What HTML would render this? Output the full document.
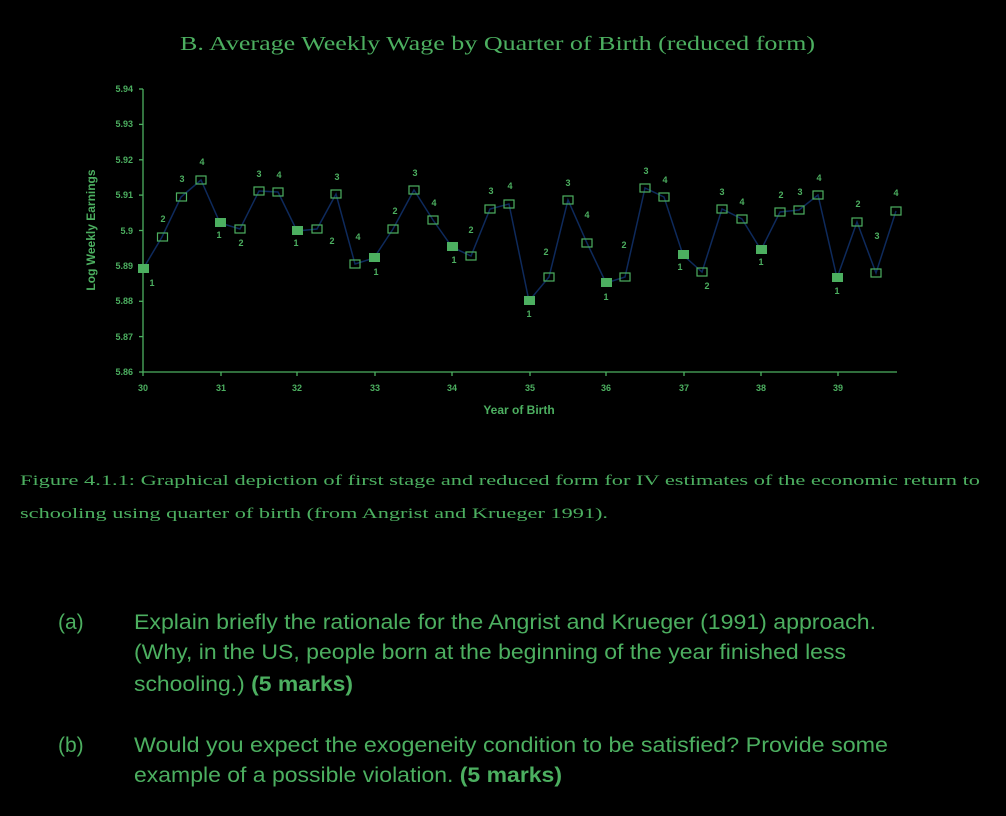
<!DOCTYPE html>
<html><head><meta charset="utf-8"><style>
html,body{margin:0;padding:0;background:#000;}
svg{display:block;}
</style></head><body>
<svg width="1006" height="816" xmlns="http://www.w3.org/2000/svg">
<rect width="1006" height="816" fill="#000"/>
<g fill="#4caf60">
<text x="180" y="50" font-family="Liberation Serif, serif" font-size="20" textLength="635" lengthAdjust="spacingAndGlyphs">B. Average Weekly Wage by Quarter of Birth (reduced form)</text>
</g>
<!-- axes -->
<g stroke="#4caf60" stroke-width="1.3" fill="none">
<line x1="143" y1="89" x2="143" y2="372"/>
<line x1="143" y1="372" x2="897" y2="372"/>
<line x1="139" y1="89" x2="143" y2="89"/><line x1="139" y1="124.4" x2="143" y2="124.4"/><line x1="139" y1="159.8" x2="143" y2="159.8"/><line x1="139" y1="195.1" x2="143" y2="195.1"/><line x1="139" y1="230.5" x2="143" y2="230.5"/><line x1="139" y1="265.9" x2="143" y2="265.9"/><line x1="139" y1="301.3" x2="143" y2="301.3"/><line x1="139" y1="336.6" x2="143" y2="336.6"/><line x1="139" y1="372" x2="143" y2="372"/>
<line x1="143" y1="372" x2="143" y2="376"/><line x1="221" y1="372" x2="221" y2="376"/><line x1="297" y1="372" x2="297" y2="376"/><line x1="375" y1="372" x2="375" y2="376"/><line x1="452" y1="372" x2="452" y2="376"/><line x1="530" y1="372" x2="530" y2="376"/><line x1="606" y1="372" x2="606" y2="376"/><line x1="684" y1="372" x2="684" y2="376"/><line x1="761" y1="372" x2="761" y2="376"/><line x1="838" y1="372" x2="838" y2="376"/>
</g>
<g fill="#4caf60" font-family="Liberation Sans, sans-serif" font-size="9" font-weight="bold" text-anchor="end">
<text x="133" y="92">5.94</text><text x="133" y="127">5.93</text><text x="133" y="163">5.92</text><text x="133" y="198">5.91</text><text x="133" y="234">5.9</text><text x="133" y="269">5.89</text><text x="133" y="304">5.88</text><text x="133" y="340">5.87</text><text x="133" y="375">5.86</text>
</g>
<g fill="#4caf60" font-family="Liberation Sans, sans-serif" font-size="9" font-weight="bold" text-anchor="middle">
<text x="143" y="391">30</text><text x="221" y="391">31</text><text x="297" y="391">32</text><text x="375" y="391">33</text><text x="452" y="391">34</text><text x="530" y="391">35</text><text x="606" y="391">36</text><text x="684" y="391">37</text><text x="761" y="391">38</text><text x="838" y="391">39</text>
<text x="519" y="414" font-size="12">Year of Birth</text>
<text transform="translate(95,230) rotate(-90)" font-size="12">Log Weekly Earnings</text>
</g>
<polyline fill="none" stroke="#0e2a5c" stroke-width="1.5" points="143,269 162,237 181,197 201,180 220,223 240,229 259,191 278,192 297,231 317,229 336,194 355,264 374,258 393,229 414,190 433,220 452,247 471,256 490,209 509,204 529,301 549,277 568,200 587,243 606,283 625,277 645,188 664,197 683,255 702,272 722,209 742,219 761,250 780,212 799,210 818,195 837,278 857,222 876,273 896,211"/>
<g fill="#4caf60">
<rect x="138" y="264" width="11" height="9"/><rect x="215" y="218" width="11" height="9"/><rect x="292" y="226" width="11" height="9"/><rect x="369" y="253" width="11" height="9"/><rect x="447" y="242" width="11" height="9"/><rect x="524" y="296" width="11" height="9"/><rect x="601" y="278" width="11" height="9"/><rect x="678" y="250" width="11" height="9"/><rect x="756" y="245" width="11" height="9"/><rect x="832" y="273" width="11" height="9"/>
</g>
<g fill="none" stroke="#4caf60" stroke-width="1.2">
<rect x="157.5" y="233" width="10" height="8"/><rect x="176.5" y="193" width="10" height="8"/><rect x="196" y="176" width="10" height="8"/><rect x="235" y="225" width="10" height="8"/><rect x="254" y="187" width="10" height="8"/><rect x="273" y="188" width="10" height="8"/><rect x="312" y="225" width="10" height="8"/><rect x="331" y="190" width="10" height="8"/><rect x="350" y="260" width="10" height="8"/><rect x="388" y="225" width="10" height="8"/><rect x="409" y="186" width="10" height="8"/><rect x="428" y="216" width="10" height="8"/><rect x="466" y="252" width="10" height="8"/><rect x="485" y="205" width="10" height="8"/><rect x="504" y="200" width="10" height="8"/><rect x="544" y="273" width="10" height="8"/><rect x="563" y="196" width="10" height="8"/><rect x="582" y="239" width="10" height="8"/><rect x="620" y="273" width="10" height="8"/><rect x="640" y="184" width="10" height="8"/><rect x="659" y="193" width="10" height="8"/><rect x="697" y="268" width="10" height="8"/><rect x="717" y="205" width="10" height="8"/><rect x="737" y="215" width="10" height="8"/><rect x="775" y="208" width="10" height="8"/><rect x="794" y="206" width="10" height="8"/><rect x="813" y="191" width="10" height="8"/><rect x="852" y="218" width="10" height="8"/><rect x="871" y="269" width="10" height="8"/><rect x="891" y="207" width="10" height="8"/>
</g>
<g fill="#4caf60" font-family="Liberation Sans, sans-serif" font-size="9" font-weight="bold" text-anchor="middle">
<text x="152" y="286">1</text><text x="163" y="222">2</text><text x="182" y="182">3</text><text x="202" y="165">4</text><text x="219" y="238">1</text><text x="241" y="246">2</text><text x="259" y="177">3</text><text x="279" y="178">4</text><text x="296" y="246">1</text><text x="332" y="244">2</text><text x="337" y="180">3</text><text x="358" y="240">4</text><text x="376" y="275">1</text><text x="395" y="214">2</text><text x="415" y="176">3</text><text x="434" y="206">4</text><text x="454" y="263">1</text><text x="471" y="233">2</text><text x="491" y="194">3</text><text x="510" y="189">4</text><text x="529" y="317">1</text><text x="546" y="255">2</text><text x="568" y="186">3</text><text x="587" y="218">4</text><text x="606" y="300">1</text><text x="624" y="248">2</text><text x="646" y="174">3</text><text x="665" y="183">4</text><text x="680" y="270">1</text><text x="707" y="289">2</text><text x="722" y="195">3</text><text x="742" y="205">4</text><text x="761" y="265">1</text><text x="781" y="198">2</text><text x="800" y="195">3</text><text x="819" y="181">4</text><text x="837" y="294">1</text><text x="858" y="207">2</text><text x="877" y="239">3</text><text x="896" y="196">4</text>
</g>
<g fill="#4caf60" font-family="Liberation Serif, serif" font-size="15">
<text x="20" y="485" textLength="960" lengthAdjust="spacingAndGlyphs">Figure 4.1.1: Graphical depiction of first stage and reduced form for IV estimates of the economic return to</text>
<text x="20" y="518" textLength="588" lengthAdjust="spacingAndGlyphs">schooling using quarter of birth (from Angrist and Krueger 1991).</text>
</g>
<g fill="#4caf60" font-family="Liberation Sans, sans-serif" font-size="21">
<text x="58" y="629">(a)</text>
<text x="134" y="629" textLength="742" lengthAdjust="spacingAndGlyphs">Explain briefly the rationale for the Angrist and Krueger (1991) approach.</text>
<text x="134" y="659" textLength="712" lengthAdjust="spacingAndGlyphs">(Why, in the US, people born at the beginning of the year finished less</text>
<text x="134" y="691" textLength="219" lengthAdjust="spacingAndGlyphs">schooling.)  <tspan font-weight="bold">(5 marks)</tspan></text>
<text x="58" y="752">(b)</text>
<text x="134" y="752" textLength="754" lengthAdjust="spacingAndGlyphs">Would you expect the exogeneity condition to be satisfied?  Provide some</text>
<text x="134" y="782" textLength="428" lengthAdjust="spacingAndGlyphs">example of a possible violation.  <tspan font-weight="bold">(5 marks)</tspan></text>
</g>
</svg>
</body></html>
